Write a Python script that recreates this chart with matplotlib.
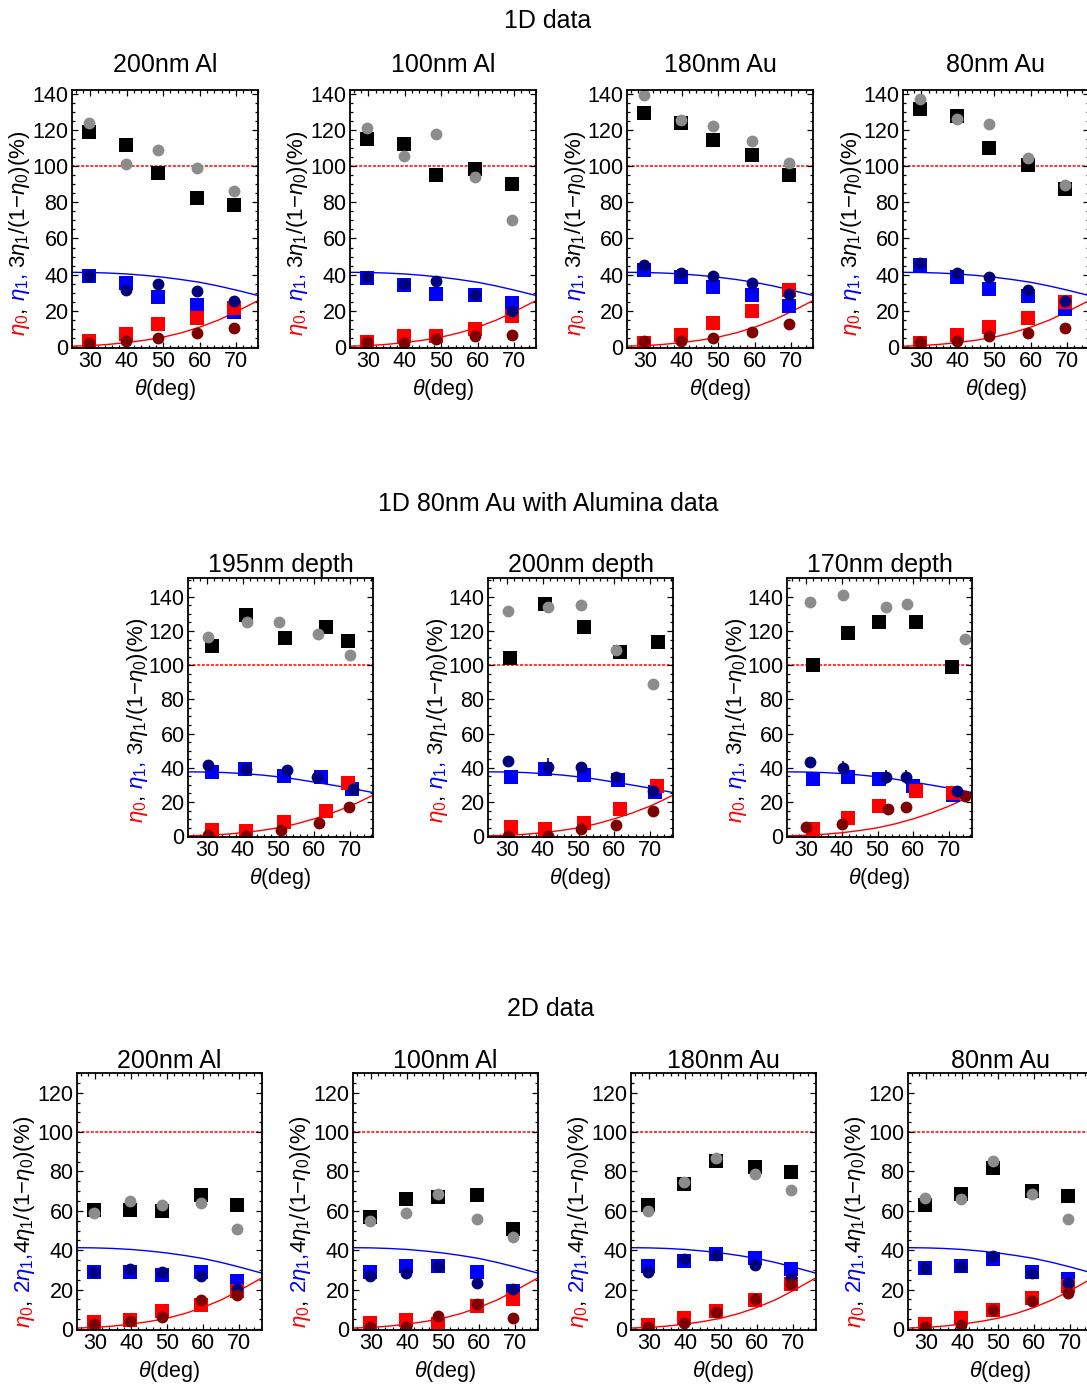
import matplotlib
matplotlib.use("Agg")
import matplotlib.pyplot as plt
from matplotlib.ticker import MultipleLocator

plt.rcParams['font.family'] = 'Liberation Sans'
plt.rcParams['mathtext.fontset'] = 'custom'
plt.rcParams['mathtext.rm'] = 'Liberation Sans'
plt.rcParams['mathtext.it'] = 'Liberation Sans:italic'

# ---------------- data ----------------
theta = [29.7, 39.7, 48.7, 59.3, 69.4]   # rows 1 and 3

# model curves
curve_theta = [25, 30, 35, 40, 45, 50, 55, 60, 65, 70, 73, 77]
blue_a = [41.3, 41.2, 40.9, 40.4, 39.6, 38.6, 37.3, 35.8, 33.8, 31.5, 30.0, 28.0]
red_a = [0.5, 0.8, 1.5, 2.5, 3.8, 5.5, 7.9, 11.0, 14.8, 19.5, 22.6, 26.7]
blue_b = [37.6, 37.5, 37.2, 36.6, 35.8, 34.7, 33.3, 31.6, 29.9, 28.1, 26.9, 25.3]
red_b = [0.2, 0.5, 1.1, 2.0, 3.3, 4.9, 7.2, 10.1, 13.5, 17.5, 20.4, 24.5]

# 1D data: sq = squares, ci = circles; k=black/gray, b=blue/navy, r=red/darkred
al200_sq_k = [118.9, 111.5, 96.3, 82.2, 78.5]
al200_ci_k = [124.0, 101.0, 109.0, 99.0, 86.0]
al200_sq_b = [39.4, 35.2, 27.5, 23.3, 19.6]
al200_ci_b = [39.4, 31.7, 35.0, 31.0, 25.3]
al200_sq_r = [3.1, 7.3, 12.8, 16.0, 21.5]
al200_ci_r = [2.4, 3.3, 5.0, 7.7, 10.5]

al100_sq_k = [114.7, 112.3, 95.0, 98.5, 90.0]
al100_ci_k = [121.0, 105.5, 117.8, 94.0, 70.0]
al100_sq_b = [38.0, 34.3, 29.4, 28.8, 24.2]
al100_ci_b = [38.5, 34.9, 36.3, 28.8, 20.2]
al100_sq_r = [2.8, 6.4, 6.4, 10.0, 17.0]
al100_ci_r = [2.8, 2.4, 4.6, 5.9, 6.8]

au180_sq_k = [129.4, 123.9, 114.3, 106.0, 94.9]
au180_ci_k = [139.0, 125.7, 122.0, 113.8, 101.5]
au180_sq_b = [42.8, 38.5, 33.4, 29.0, 22.9]
au180_ci_b = [45.3, 40.9, 39.4, 35.4, 29.4]
au180_sq_r = [2.2, 6.8, 13.2, 19.8, 31.6]
au180_ci_r = [3.3, 3.3, 5.1, 8.3, 12.8]

au80_sq_k = [131.7, 127.5, 109.7, 100.4, 87.5]
au80_ci_k = [137.0, 126.0, 123.3, 104.6, 89.4]
au80_sq_b = [45.5, 38.5, 32.1, 28.4, 21.1]
au80_ci_b = [46.2, 40.9, 38.9, 31.7, 25.3]
au80_sq_r = [2.2, 6.8, 11.0, 16.0, 25.0]
au80_ci_r = [2.8, 3.3, 5.9, 7.7, 10.5]

# 1D 80nm Au with alumina (each series has its own angles)
d195_x_sq_k = [31.4, 40.8, 51.9, 63.3, 69.4]
d195_sq_k = [111.0, 129.5, 116.0, 122.5, 114.0]
d195_x_ci_k = [30.3, 41.1, 50.0, 61.1, 70.0]
d195_ci_k = [116.5, 125.0, 125.5, 118.5, 106.0]
d195_x_sq_b = [31.4, 40.6, 51.6, 62.0, 70.5]
d195_sq_b = [37.5, 39.0, 35.0, 34.5, 27.5]
d195_x_ci_b = [30.3, 40.8, 52.5, 60.8, 70.8]
d195_ci_b = [41.5, 39.0, 38.5, 34.5, 27.5]
d195_err_b = [0, 0, 2, 0, 0]
d195_x_sq_r = [31.4, 40.8, 51.6, 63.3, 69.4]
d195_sq_r = [3.5, 3.0, 8.0, 15.0, 31.0]
d195_x_ci_r = [30.3, 40.8, 50.8, 61.3, 69.7]
d195_ci_r = [0.5, 0.3, 3.5, 7.5, 17.0]

d200_x_sq_k = [30.8, 40.6, 51.5, 61.5, 72.2]
d200_sq_k = [104.0, 135.5, 122.5, 107.5, 113.5]
d200_x_ci_k = [30.3, 41.5, 50.7, 60.5, 70.8]
d200_ci_k = [131.5, 134.0, 135.0, 108.8, 89.0]
d200_x_sq_b = [31.0, 40.6, 51.5, 61.2, 71.5]
d200_sq_b = [34.5, 39.5, 36.0, 33.0, 26.0]
d200_x_ci_b = [30.3, 41.5, 50.7, 60.5, 70.8]
d200_ci_b = [43.8, 40.6, 40.2, 34.5, 26.6]
d200_err_b = [0, 5, 3, 1.5, 0]
d200_x_sq_r = [31.0, 40.6, 51.5, 61.5, 72.0]
d200_sq_r = [5.2, 3.9, 7.7, 15.7, 29.5]
d200_x_ci_r = [30.3, 41.5, 50.7, 60.5, 70.8]
d200_ci_r = [0.3, 0.3, 3.9, 6.5, 14.5]

d170_x_sq_k = [31.9, 41.8, 50.3, 60.8, 71.0]
d170_sq_k = [100.0, 119.0, 125.5, 125.0, 99.0]
d170_x_ci_k = [31.0, 40.4, 52.3, 58.4, 74.4]
d170_ci_k = [137.0, 141.0, 134.0, 136.0, 115.3]
d170_x_sq_b = [31.9, 41.8, 50.3, 60.0, 71.3]
d170_sq_b = [33.4, 34.6, 33.4, 29.5, 24.0]
d170_x_ci_b = [31.0, 40.4, 52.3, 57.9, 72.3]
d170_ci_b = [43.5, 40.0, 34.6, 34.6, 26.2]
d170_err_b = [0, 4, 4, 4, 3]
d170_x_sq_r = [31.9, 41.8, 50.3, 60.8, 71.3]
d170_sq_r = [4.3, 10.7, 17.9, 26.2, 25.5]
d170_x_ci_r = [30.0, 40.0, 52.8, 57.9, 74.4]
d170_ci_r = [5.4, 7.0, 16.1, 17.1, 23.7]

# 2D data
al200_2d_sq_k = [60.5, 60.5, 60.0, 67.9, 62.9]
al200_2d_ci_k = [58.8, 65.0, 63.0, 64.2, 51.0]
al200_2d_sq_b = [29.2, 29.2, 27.4, 29.2, 24.5]
al200_2d_ci_b = [29.2, 30.4, 29.2, 26.7, 20.3]
al200_2d_sq_r = [3.4, 4.7, 9.3, 12.3, 19.4]
al200_2d_ci_r = [2.5, 4.2, 6.3, 14.9, 17.5]

al100_2d_sq_k = [57.1, 65.9, 67.1, 68.1, 50.7]
al100_2d_ci_k = [54.9, 58.8, 68.4, 55.8, 46.8]
al100_2d_sq_b = [28.7, 31.8, 31.8, 29.2, 19.4]
al100_2d_ci_b = [26.7, 28.2, 32.1, 23.3, 20.3]
al100_2d_sq_r = [2.9, 4.6, 2.5, 11.5, 15.2]
al100_2d_ci_r = [1.2, 1.2, 6.8, 12.7, 5.6]

au180_2d_sq_k = [63.0, 73.5, 85.3, 82.5, 79.8]
au180_2d_ci_k = [60.0, 74.4, 86.7, 78.6, 70.6]
au180_2d_sq_b = [31.8, 34.6, 38.0, 36.3, 30.4]
au180_2d_ci_b = [28.7, 35.5, 37.5, 32.6, 25.7]
au180_2d_sq_r = [2.2, 5.4, 9.3, 14.9, 22.8]
au180_2d_ci_r = [1.2, 2.9, 8.5, 15.2, 23.0]

au80_2d_sq_k = [63.0, 68.4, 81.6, 70.1, 67.6]
au80_2d_ci_k = [66.4, 66.2, 85.3, 68.8, 55.8]
au80_2d_sq_b = [30.8, 32.1, 35.5, 28.7, 25.4]
au80_2d_ci_b = [30.8, 32.1, 37.2, 28.4, 23.3]
au80_2d_sq_r = [2.5, 5.4, 9.6, 16.0, 22.0]
au80_2d_ci_r = [1.2, 2.2, 9.6, 14.4, 18.1]

W, H = 1087, 1389
fig = plt.figure(figsize=(W / 100, H / 100), dpi=100)

SQ = dict(marker='s', ms=9.5, mew=0, ls='none')
CI = dict(marker='o', ms=8.5, mew=0, ls='none')
COL = {'sq_k': 'black', 'ci_k': '#8c8c8c', 'sq_b': '#0000ff', 'ci_b': '#00007f',
       'sq_r': '#ff0000', 'ci_r': '#7f0000'}


def px_axes(left, top, width, bottom):
    return fig.add_axes([left / W, 1 - bottom / H, width / W, (bottom - top) / H])


def style(ax, ylim, xlim):
    ax.set_xlim(*xlim)
    ax.set_ylim(*ylim)
    ax.xaxis.set_major_locator(MultipleLocator(10))
    ax.xaxis.set_minor_locator(MultipleLocator(2))
    ax.yaxis.set_major_locator(MultipleLocator(20))
    ax.yaxis.set_minor_locator(MultipleLocator(5))
    ax.tick_params(which='both', direction='in', top=True, right=True,
                   labelsize=15.5, width=0.9)
    ax.tick_params(which='major', length=4, pad=2.5)
    ax.tick_params(which='minor', length=2)
    for s in ax.spines.values():
        s.set_linewidth(1.3)
    ax.set_xlabel(r'$\theta$(deg)', fontsize=15.5, labelpad=3)
    ax.axhline(100, color='red', lw=1.1, ls=(0, (2, 1)), zorder=1)


def ylabel(ax, parts, xfrac, center, size=16):
    r = fig.canvas.get_renderer()
    texts = [ax.text(xfrac, 0, s, color=c, fontsize=size, rotation=90,
                     rotation_mode='anchor', ha='left', va='baseline',
                     transform=ax.transAxes) for s, c in parts]
    lens = [t.get_window_extent(r).height for t in texts]
    axh = ax.get_window_extent(r).height
    y = center - sum(lens) / axh / 2
    for t, L in zip(texts, lens):
        t.set_y(y)
        y += L / axh


lab1d = [(r'$\eta_0$', 'red'), (', ', 'black'), (r'$\eta_1$,', 'blue'),
         (r' 3$\eta_1$/(1$-\eta_0$)(%)', 'black')]
lab2d = [(r'$\eta_0$', 'red'), (', ', 'black'), (r'2$\eta_1$,', 'blue'),
         (r'4$\eta_1$/(1$-\eta_0$)(%)', 'black')]


def draw_fixed(ax, series, blue_c, red_c):
    ax.plot(curve_theta, blue_c, color='blue', lw=1)
    ax.plot(curve_theta, red_c, color='red', lw=1)
    for key in ['sq_k', 'sq_b', 'sq_r']:
        ax.plot(theta, series[key], color=COL[key], **SQ)
    for key in ['ci_k', 'ci_b', 'ci_r']:
        ax.plot(theta, series[key], color=COL[key], **CI)


# ---------------- row 1: 1D data ----------------
fig.text(548 / W, 1 - 28 / H, '1D data', fontsize=18, ha='center', va='baseline')
row1 = [('200nm Al', 72, dict(sq_k=al200_sq_k, ci_k=al200_ci_k, sq_b=al200_sq_b,
                               ci_b=al200_ci_b, sq_r=al200_sq_r, ci_r=al200_ci_r)),
        ('100nm Al', 350, dict(sq_k=al100_sq_k, ci_k=al100_ci_k, sq_b=al100_sq_b,
                               ci_b=al100_ci_b, sq_r=al100_sq_r, ci_r=al100_ci_r)),
        ('180nm Au', 627, dict(sq_k=au180_sq_k, ci_k=au180_ci_k, sq_b=au180_sq_b,
                               ci_b=au180_ci_b, sq_r=au180_sq_r, ci_r=au180_ci_r)),
        ('80nm Au', 903, dict(sq_k=au80_sq_k, ci_k=au80_ci_k, sq_b=au80_sq_b,
                              ci_b=au80_ci_b, sq_r=au80_sq_r, ci_r=au80_ci_r))]
for name, left, ser in row1:
    ax = px_axes(left, 90, 186, 348)
    style(ax, (-0.5, 142), (25, 76))
    draw_fixed(ax, ser, blue_a, red_a)
    fig.text((left + 93) / W, 1 - 72 / H, name, fontsize=18, ha='center',
             va='baseline')
    ylabel(ax, lab1d, -0.25, 0.445)

# ---------------- row 2: alumina ----------------
fig.text(548 / W, 1 - 511 / H, '1D 80nm Au with Alumina data', fontsize=18,
         ha='center', va='baseline')
row2 = [('195nm depth', 188,
         [(d195_x_sq_k, d195_sq_k, 'sq_k'), (d195_x_sq_b, d195_sq_b, 'sq_b'),
          (d195_x_sq_r, d195_sq_r, 'sq_r'), (d195_x_ci_k, d195_ci_k, 'ci_k'),
          (d195_x_ci_b, d195_ci_b, 'ci_b'), (d195_x_ci_r, d195_ci_r, 'ci_r')],
         d195_err_b),
        ('200nm depth', 488,
         [(d200_x_sq_k, d200_sq_k, 'sq_k'), (d200_x_sq_b, d200_sq_b, 'sq_b'),
          (d200_x_sq_r, d200_sq_r, 'sq_r'), (d200_x_ci_k, d200_ci_k, 'ci_k'),
          (d200_x_ci_b, d200_ci_b, 'ci_b'), (d200_x_ci_r, d200_ci_r, 'ci_r')],
         d200_err_b),
        ('170nm depth', 787,
         [(d170_x_sq_k, d170_sq_k, 'sq_k'), (d170_x_sq_b, d170_sq_b, 'sq_b'),
          (d170_x_sq_r, d170_sq_r, 'sq_r'), (d170_x_ci_k, d170_ci_k, 'ci_k'),
          (d170_x_ci_b, d170_ci_b, 'ci_b'), (d170_x_ci_r, d170_ci_r, 'ci_r')],
         d170_err_b)]
for name, left, sets, err in row2:
    ax = px_axes(left, 578, 185, 837)
    style(ax, (-0.5, 151), (24.6, 76.5))
    ax.plot(curve_theta, blue_b, color='blue', lw=1)
    ax.plot(curve_theta, red_b, color='red', lw=1)
    for xs, ys, key in sets:
        if key == 'ci_b':
            ax.errorbar(xs, ys, yerr=err, color=COL[key], ecolor=COL[key],
                        elinewidth=1.2, capsize=0, **CI)
        else:
            ax.plot(xs, ys, color=COL[key], **(SQ if key.startswith('sq') else CI))
    fig.text((left + 92.5) / W, 1 - 572 / H, name, fontsize=18, ha='center',
             va='baseline')
    ylabel(ax, lab1d, -0.245, 0.45)

# ---------------- row 3: 2D data ----------------
fig.text(551 / W, 1 - 1016 / H, '2D data', fontsize=18, ha='center',
         va='baseline')
row3 = [('200nm Al', 77, dict(sq_k=al200_2d_sq_k, ci_k=al200_2d_ci_k,
                               sq_b=al200_2d_sq_b, ci_b=al200_2d_ci_b,
                               sq_r=al200_2d_sq_r, ci_r=al200_2d_ci_r)),
        ('100nm Al', 353, dict(sq_k=al100_2d_sq_k, ci_k=al100_2d_ci_k,
                               sq_b=al100_2d_sq_b, ci_b=al100_2d_ci_b,
                               sq_r=al100_2d_sq_r, ci_r=al100_2d_ci_r)),
        ('180nm Au', 631, dict(sq_k=au180_2d_sq_k, ci_k=au180_2d_ci_k,
                               sq_b=au180_2d_sq_b, ci_b=au180_2d_ci_b,
                               sq_r=au180_2d_sq_r, ci_r=au180_2d_ci_r)),
        ('80nm Au', 908, dict(sq_k=au80_2d_sq_k, ci_k=au80_2d_ci_k,
                              sq_b=au80_2d_sq_b, ci_b=au80_2d_ci_b,
                              sq_r=au80_2d_sq_r, ci_r=au80_2d_ci_r))]
for name, left, ser in row3:
    ax = px_axes(left, 1073, 185, 1330)
    style(ax, (-0.5, 130), (25, 76.3))
    draw_fixed(ax, ser, blue_a, red_a)
    fig.text((left + 92.5) / W, 1 - 1068 / H, name, fontsize=18, ha='center',
             va='baseline')
    ylabel(ax, lab2d, -0.255, 0.42)

fig.savefig('out.png', dpi=100)
